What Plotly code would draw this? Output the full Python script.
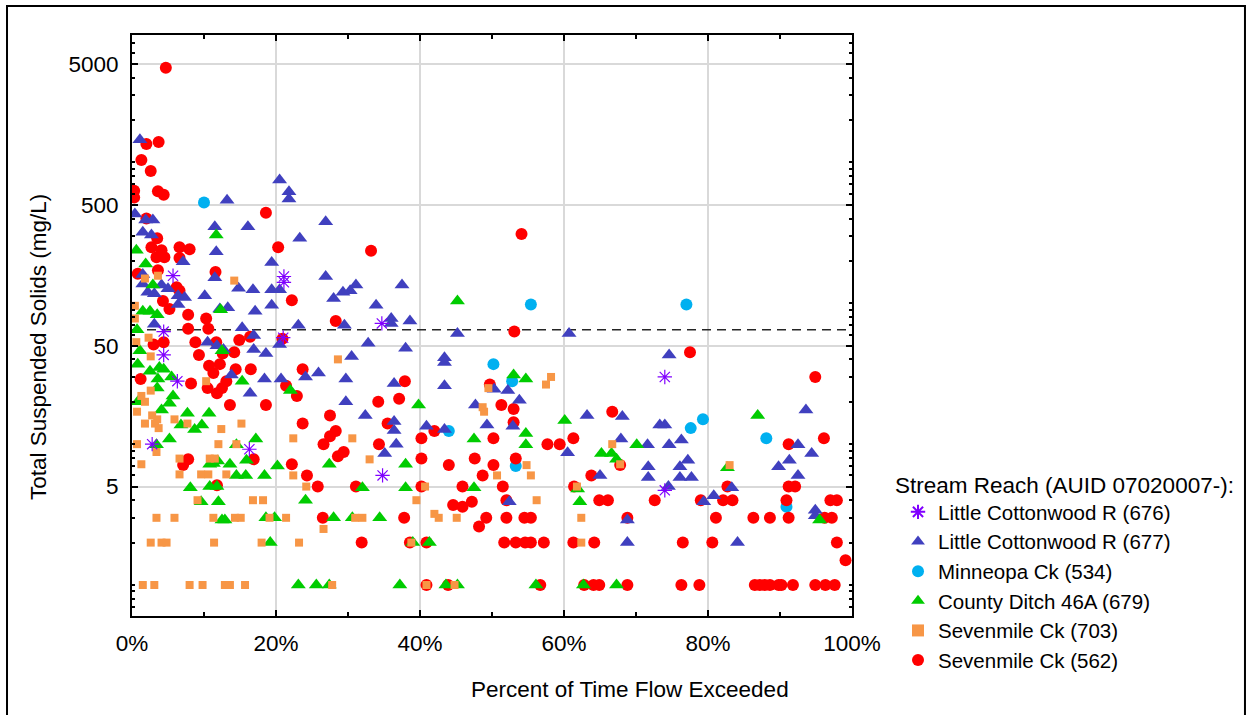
import plotly.graph_objects as go

# ---- data: percent of time flow exceeded (%) and TSS (mg/L) per stream reach ----
x_676 = [5.7, 21.1, 21.1, 4.4, 4.4, 6.3, 2.8, 16.3, 21.0, 34.7, 34.8, 74.0, 74.0]
y_676 = [157, 155, 141, 63, 43, 28, 10, 9.2, 57, 72, 6, 30, 4.7]

x_677 = [1.1, 13.2, 0.4, 1.9, 2.9, 1.5, 2.7, 11.5, 11.7, 7.1,
         1.5, 1.5, 4.1, 11.5, 2.2, 3.1, 5.0, 6.4, 7.3, 6.4,
         10.1, 13.3, 12.2, 3.1, 16.1, 20.5, 21.8, 21.8, 23.3, 26.9,
         19.4, 26.9, 14.8, 16.8, 19.4, 20.5, 28.0, 29.3, 30.3, 31.1,
         37.5, 33.9, 17.1, 19.4, 23.1, 29.5, 15.3, 36.0, 36.0, 38.6,
         20.5, 16.9, 18.6, 32.8, 30.5, 38.0, 10.5, 11.8, 12.7, 16.9,
         18.4, 20.7, 24.1, 25.9, 29.7, 36.4, 13.8, 16.4, 29.7, 32.4,
         36.4, 36.4, 36.7, 35.1, 40.9, 45.2, 60.7, 43.4, 43.4, 43.4,
         50.3, 52.2, 53.8, 47.7, 49.3, 52.9, 43.4, 63.2, 68.1,
         67.9, 60.5, 65.0, 52.4, 68.8, 68.8, 74.6, 73.3, 74.0, 71.6,
         74.6, 76.3, 93.6, 92.5, 94.4, 91.3, 89.8, 92.5, 71.7, 71.7,
         76.1, 76.1, 77.7, 77.2, 74.5, 83.3, 80.8, 79.4, 94.9, 94.9,
         84.1]
y_677 = [1450, 540, 430, 390, 390, 320, 305, 350, 232, 197,
         160, 137, 135, 152, 120, 117, 127, 113, 110, 98,
         113, 93, 91, 71, 350, 750, 620, 550, 290, 380,
         195, 155, 128, 125, 125, 125, 108, 120, 123, 135,
         135, 97, 88, 97, 70, 70, 67, 78, 72, 75,
         51, 47, 44, 52, 42, 48, 53, 50, 47, 59,
         29, 29, 30, 32, 29, 27, 31, 23, 20, 16,
         14.5, 12.5, 10, 8.6, 13.4, 61, 61, 41, 38, 26,
         24.5, 24, 20.5, 19, 13.7, 13.4, 12.7, 16, 15.7,
         10.9, 8.7, 6, 3.9, 2.9, 2, 43, 13.7, 13.7, 9.9,
         9.9, 10.7, 17.5, 9.9, 8.6, 7.7, 6.9, 6, 6.9, 5.8,
         6.9, 5.8, 5.8, 7.7, 5, 4.9, 4.3, 3.9, 3.4, 3.1,
         2]

x_534 = [10.0, 55.4, 77.0, 50.2, 52.8, 44.0, 53.3, 79.3, 77.6, 88.1, 90.9]
y_534 = [520, 98, 98, 37, 28, 12.4, 7, 15, 13, 11, 3.6]

x_679 = [0.6, 11.7, 1.9, 2.9, 1.5, 2.5, 3.5, 12.3, 0.7, 1.1,
         0.8, 2.5, 3.8, 4.4, 3.6, 5.5, 3.5, 5.7, 5.2, 0.8,
         4.1, 7.7, 6.8, 8.7, 9.7, 10.7, 5.2, 3.4, 10.8, 11.3,
         11.9, 13.6, 14.5, 8.1, 10.8, 11.8, 9.6, 12.0, 12.5, 12.9,
         12.5, 15.3, 22.0, 14.5, 15.9, 17.2, 20.2, 15.8, 18.4,
         27.4, 38.0, 39.8, 24.1, 32.0, 38.0, 18.6, 19.8, 28.0, 30.6,
         34.4, 19.2, 39.0, 23.1, 25.6, 27.4, 37.2, 45.2, 53.0, 54.7,
         47.5, 54.7, 54.7, 60.1, 65.2, 66.6, 67.3, 70.1, 47.5, 61.9,
         62.2, 41.3, 43.6, 45.2, 56.1, 62.7, 67.3, 86.9, 82.7, 95.5]
y_679 = [238, 305, 190, 135, 88, 88, 83, 90, 65, 46,
         37, 33, 35, 34, 29, 30, 25, 22, 19.5, 20,
         17.5, 16.6, 13.7, 12.7, 13.7, 16.6, 10.9, 9.9, 7.2, 7.3,
         7.6, 7.2, 6, 4.9, 5, 5, 3.9, 3.9, 2.9, 2.9,
         46, 28, 24, 9.9, 7.7, 10.9, 7, 6, 6,
         7.2, 7.2, 19, 4, 4.9, 4.9, 3, 3, 3, 3,
         3, 2, 2, 1, 1, 1, 1, 104, 31, 29,
         10.9, 11.9, 9.9, 14.7, 8.6, 8.6, 7.8, 9.9, 4.9, 4.8,
         3.9, 2, 1, 1, 1, 1, 1, 16, 6.8, 2.9]

x_703 = [1.8, 3.6, 14.2, 0.4, 0.4, 2.3, 0.6, 2.6, 10.3, 2.6,
         1.3, 1.8, 0.7, 2.8, 3.5, 3.2, 3.7, 1.8, 5.9, 7.7,
         12.4, 15.2, 0.7, 3.4, 1.3, 6.6, 6.6, 9.6, 10.6, 13.1,
         10.8, 11.5, 12.0, 14.5, 9.1, 16.8, 18.2, 3.4, 5.9, 11.3,
         14.3, 15.1, 19.1, 21.4, 31.0, 32.0, 2.6, 4.1, 4.8, 11.4,
         18.0, 23.2, 38.8, 1.5, 3.1, 8.0, 9.8, 12.9, 13.6, 15.7,
         27.8, 40.9, 44.8, 22.4, 22.4, 30.6, 33.0, 28.6, 24.2, 26.6,
         40.7, 39.5, 58.2, 57.5, 49.5, 48.7, 48.9, 54.8, 55.4, 50.7,
         56.2, 42.0, 42.6, 45.1, 61.8, 62.4, 62.4, 66.7, 67.8, 83.0]
y_703 = [150, 157, 145, 96, 78, 57, 53, 42, 28, 24,
         22, 20, 17, 16, 15, 14, 13, 14, 15, 14,
         12.8, 14, 10, 8.8, 7.2, 7.9, 6.1, 6.1, 6.1, 6.1,
         7.9, 7.9, 10, 10, 4, 4, 4, 3, 3, 3,
         3, 3, 3, 3, 3, 3, 2, 2, 2, 2,
         2, 2, 2, 1, 1, 1, 1, 1, 1, 1,
         1, 1, 1, 11, 6, 11, 7.8, 40, 5, 2.5,
         5, 4, 30, 26.5, 25, 18.3, 17, 7.1, 6, 6,
         4, 3.2, 3, 3, 5, 3, 2, 10, 7.2, 7.1]

x_562 = [4.7, 2.0, 3.7, 1.3, 2.6, 0.3, 0.3, 3.6, 4.4, 2.0,
         3.5, 2.7, 4.1, 4.5, 3.4, 6.6, 8.0, 6.6, 3.6, 0.8,
         11.6, 6.2, 6.6, 4.3, 5.2, 7.8, 10.3, 7.8, 10.6, 18.6,
         20.3, 33.2, 22.2, 28.3, 3.0, 4.4, 8.8, 11.7, 14.9, 16.4,
         9.3, 10.7, 12.2, 11.3, 14.2, 14.4, 16.5, 12.6, 10.5, 11.8,
         12.5, 13.1, 8.2, 13.6, 18.6, 1.2, 20.9, 21.4, 22.9, 23.7,
         23.7, 27.5, 28.3, 27.5, 26.6, 28.6, 29.4, 34.2, 37.1, 37.9,
         35.5, 34.3, 40.2, 40.2, 7.8, 7.1, 16.9, 11.8, 22.2, 24.3,
         25.8, 31.1, 40.2, 26.5, 37.8, 31.9, 38.6, 40.9, 40.9, 54.1,
         53.1, 49.7, 51.3, 53.0, 53.0, 42.0, 50.2, 57.7, 59.4, 61.3,
         66.7, 67.8, 44.0, 47.6, 50.2, 53.3, 48.7, 63.8, 45.9, 51.5,
         61.4, 44.6, 45.9, 47.2, 52.0, 64.9, 66.1, 49.2, 52.0, 54.5,
         55.4, 68.8, 48.2, 51.7, 53.3, 54.6, 55.4, 57.2, 61.3, 64.2,
         43.9, 56.7, 62.8, 64.1, 64.9, 68.8, 77.5, 94.9, 91.2, 96.1,
         82.7, 91.2, 92.1, 72.6, 79.0, 82.1, 83.4, 90.9, 97.0, 97.9,
         81.1, 86.3, 88.6, 91.2, 96.2, 97.2, 76.5, 80.6, 97.9, 99.1,
         76.3, 78.8, 86.5, 87.2, 87.9, 88.6, 89.8, 90.2, 91.8, 94.9,
         96.3, 97.6]
y_562 = [4700, 1350, 1400, 1040, 870, 630, 565, 625, 590, 400,
         290, 250, 238, 212, 212, 250, 242, 210, 172, 162,
         167, 130, 123, 104, 91, 83, 78, 66, 66, 440,
         250, 236, 105, 75, 51, 53, 53, 53, 55, 58,
         43, 36, 37, 32, 45, 34, 34, 44, 25, 23,
         25, 28, 27, 19, 19, 29, 56, 26, 22, 34,
         14, 16, 12.4, 11.4, 10, 8.2, 8.8, 20, 21, 28,
         14, 10, 11, 7.9, 7.8, 7.1, 7.8, 5.1, 7.2, 6,
         5, 5, 5, 3, 3, 2, 2, 2, 1, 310,
         63, 26.5, 19, 17.8, 14.3, 12.4, 11, 10, 10, 11,
         17, 7.1, 7.1, 7.9, 7.1, 7.9, 6, 6, 5, 5,
         5, 3.7, 3.6, 3.9, 4, 4, 4, 3, 3, 3,
         3, 3, 2.6, 2, 2, 2, 2, 2, 2, 2,
         1, 1, 1, 1, 1, 1, 45, 30, 10, 11,
         5, 5, 5, 4, 4, 4, 4, 4, 4, 4,
         3, 3, 3, 3, 3, 3, 2, 2, 2, 1.5,
         1, 1, 1, 1, 1, 1, 1, 1, 1, 1,
         1, 1]

# TSS standard (mg/L) drawn as a dashed reference line
tss_standard = 65

x_ticks = [0, 20, 40, 60, 80, 100]
x_tick_text = ["0%", "20%", "40%", "60%", "80%", "100%"]
y_ticks = [5, 50, 500, 5000]
y_tick_text = ["5", "50", "500", "5000"]

FONT = "Liberation Sans, Arial, sans-serif"
FS = 22.5
LEGEND_FS = 20.5

fig = go.Figure()

fig.add_trace(go.Scatter(x=[0, 100], y=[tss_standard, tss_standard], mode="lines",
                         line=dict(color="#262626", width=1.5, dash="9px,6px"),
                         showlegend=False, hoverinfo="skip"))

# drawing order (bottom to top); legendrank keeps the legend order
series = [
    ("Minneopa Ck (534)", x_534, y_534, dict(symbol="circle", size=12, color="#00B0F0"), 3),
    ("Sevenmile Ck (562)", x_562, y_562, dict(symbol="circle", size=12, color="#FF0000"), 6),
    ("Little Cottonwood R (677)", x_677, y_677, dict(symbol="triangle-up", size=13, color="#4040BF"), 2),
    ("County Ditch 46A (679)", x_679, y_679, dict(symbol="triangle-up", size=13, color="#00CC00"), 4),
    ("Sevenmile Ck (703)", x_703, y_703, dict(symbol="square", size=8, color="#F79646"), 5),
    ("Little Cottonwood R (676)", x_676, y_676,
     dict(symbol="asterisk-open", size=12, color="#8000FF", line=dict(color="#8000FF", width=1.2)), 1),
]
for name, xs, ys, mk, rank in series:
    fig.add_trace(go.Scatter(x=xs, y=ys, mode="markers", name=name, marker=mk,
                             legendrank=rank))

minor_y = [m * 10 ** k for k in range(-1, 4) for m in range(1, 10)]
minor_y = [v for v in minor_y if 0.6 <= v <= 8000 and v not in y_ticks]

axis_common = dict(
    showline=True, linecolor="black", linewidth=2, mirror="allticks",
    ticks="inside", tickcolor="black", tickwidth=1.5, ticklen=6,
    showgrid=True, gridcolor="#D9D9D9", gridwidth=2, zeroline=False,
    tickfont=dict(family=FONT, size=FS, color="black"),
)

fig.update_xaxes(range=[0, 100], tickvals=x_ticks, ticktext=x_tick_text,
                 minor=dict(tickvals=[10, 30, 50, 70, 90], ticks="inside", ticklen=4,
                            tickcolor="black", showgrid=False),
                 ticklabelstandoff=6, **axis_common)
fig.update_yaxes(type="log", range=[-0.22, 3.905], tickvals=y_ticks, ticktext=y_tick_text,
                 minor=dict(tickvals=minor_y, ticks="inside", ticklen=3,
                            tickcolor="black", showgrid=False),
                 ticklabelstandoff=7, **axis_common)

fig.update_layout(
    width=1249, height=715,
    margin=dict(l=132, r=397, t=35, b=99),
    paper_bgcolor="white", plot_bgcolor="white",
    font=dict(family=FONT, size=FS, color="black"),
    legend=dict(
        x=1.0639, y=0.2134, xanchor="left", yanchor="top",
        font=dict(family=FONT, size=LEGEND_FS), itemsizing="constant",
        tracegroupgap=0, bgcolor="rgba(0,0,0,0)",
    ),
    annotations=[
        dict(text="Stream Reach (AUID 07020007-):", xref="paper", yref="paper",
             x=1.0569, y=0.224, xanchor="left", yanchor="middle", showarrow=False,
             font=dict(family=FONT, size=FS)),
        dict(text="Percent of Time Flow Exceeded", xref="paper", yref="paper",
             x=0.6917, y=-0.127, xanchor="center", yanchor="middle", showarrow=False,
             font=dict(family=FONT, size=FS)),
        dict(text="Total Suspended Solids (mg/L)", xref="paper", yref="paper",
             x=-0.129, y=0.463, xanchor="center", yanchor="middle", showarrow=False,
             textangle=-90, font=dict(family=FONT, size=FS)),
    ],
    shapes=[
        dict(type="rect", xref="paper", yref="paper",
             x0=-0.1736, x1=1.5458, y0=-0.2, y1=1.0499,
             line=dict(color="black", width=2), fillcolor="rgba(0,0,0,0)"),
    ],
)

fig.write_html("out.html")
